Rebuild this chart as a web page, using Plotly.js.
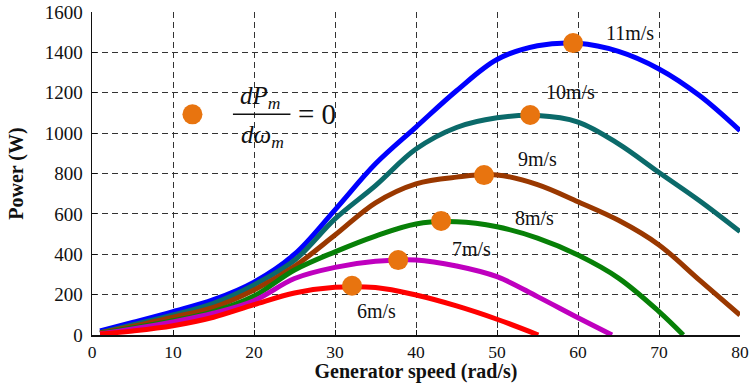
<!DOCTYPE html>
<html>
<head>
<meta charset="utf-8">
<script src="https://cdn.plot.ly/plotly-3.0.1.min.js"></script>
<style>html,body{margin:0;padding:0;background:#fff;}#chart{width:749px;height:383px;}</style>
</head>
<body>
<div id="chart"></div>
<script>
// Generator speed (rad/s) sample points
const speed = [1, 5, 10, 15, 20, 25, 30, 35, 40, 45, 50, 55, 60, 65, 70, 75, 80];

// Power (W) curves per wind speed
const p11x = speed;
const p11 = [20, 62, 116, 175, 262, 400, 620, 848, 1030, 1210, 1365, 1433, 1445, 1405, 1318, 1186, 1012];
const p10x = speed;
const p10 = [12, 50, 99, 157, 248, 370, 575, 740, 921, 1028, 1076, 1087, 1055, 947, 805, 665, 512];
const p9x = speed;
const p9 = [10, 42, 88, 137, 223, 340, 495, 655, 749, 782, 793, 745, 660, 568, 446, 272, 99];
const p8x = [1, 5, 10, 15, 20, 25, 30, 35, 40, 45, 50, 55, 60, 65, 70, 73];
const p8 = [8, 35, 71, 116, 193, 322, 412, 490, 550, 561, 536, 480, 396, 282, 116, 0];
const p7x = [1, 5, 10, 15, 20, 25, 30, 35, 40, 45, 50, 55, 60, 64.2];
const p7 = [6, 30, 65, 108, 170, 280, 335, 365, 372, 342, 289, 190, 85, 0];
const p6x = [1, 5, 10, 15, 20, 25, 30, 35, 40, 45, 50, 55.1];
const p6 = [5, 20, 46, 88, 150, 208, 236, 235, 198, 144, 78, 0];

// Maximum power points (dPm/dwm = 0)
const mppX = [32.1, 37.8, 43.1, 48.4, 54.1, 59.4];
const mppY = [244, 371, 565, 792, 1090, 1446];
const keyX = [12.4];
const keyY = [1093];

// Curve labels
const labelText = ['11m/s', '10m/s', '9m/s', '8m/s', '7m/s', '6m/s'];
const labelX = [66.4, 59.1, 55.0, 54.6, 46.9, 35.1];
const labelY = [1494, 1205, 870, 578, 424, 120];

const xTicks = [0, 10, 20, 30, 40, 50, 60, 70, 80];
const yTicks = [0, 200, 400, 600, 800, 1000, 1200, 1400, 1600];

const serif = '"Liberation Serif", "DejaVu Serif", serif';

function curve(x, y, color) {
  return {x: x, y: y, type: 'scatter', mode: 'lines',
    line: {color: color, width: 5, shape: 'spline', smoothing: 1},
    hoverinfo: 'skip', showlegend: false};
}

const data = [
  curve(p11x, p11, '#0000ff'),
  curve(p10x, p10, '#0b6a6a'),
  curve(p9x, p9, '#9a3800'),
  curve(p8x, p8, '#078007'),
  curve(p7x, p7, '#bf00bf'),
  curve(p6x, p6, '#ff0000'),
  {x: mppX, y: mppY, type: 'scatter', mode: 'markers',
   marker: {color: '#e8740f', size: 20, line: {width: 0}}, showlegend: false, cliponaxis: false},
  {x: keyX, y: keyY, type: 'scatter', mode: 'markers',
   marker: {color: '#e8740f', size: 20, line: {width: 0}}, showlegend: false, cliponaxis: false}
];

const annotations = labelText.map((t, i) => ({
  x: labelX[i], y: labelY[i], xref: 'x', yref: 'y', text: t, showarrow: false,
  font: {family: serif, size: 20, color: '#111'}
}));

annotations.push(
  {x: 20.8, y: 1178, xref: 'x', yref: 'y', text: '<i>dP</i><sub><i>m</i></sub>', showarrow: false,
   font: {family: serif, size: 25, color: '#111'}},
  {x: 21.0, y: 985, xref: 'x', yref: 'y', text: '<i>d\u03C9</i><sub><i>m</i></sub>', showarrow: false,
   font: {family: serif, size: 25, color: '#111'}},
  {x: 27.8, y: 1093, xref: 'x', yref: 'y', text: '= 0', showarrow: false,
   font: {family: serif, size: 29, color: '#111'}}
);

const layout = {
  width: 749, height: 383,
  margin: {l: 92, r: 9, t: 12, b: 48},
  paper_bgcolor: '#fff', plot_bgcolor: '#fff',
  showlegend: false,
  font: {family: serif, size: 19, color: '#111'},
  xaxis: {
    range: [0, 80], tickvals: xTicks, ticktext: xTicks.map(String),
    showgrid: true, gridcolor: '#333', gridwidth: 1, griddash: '6px,4px',
    zeroline: false, showline: true, linecolor: '#111', linewidth: 1.5,
    ticks: 'inside', ticklen: 5, tickcolor: '#111',
    tickfont: {family: serif, size: 17.5, color: '#111'},
    title: {text: '<b>Generator speed (rad/s)</b>', standoff: 10,
      font: {family: serif, size: 20, color: '#111'}},
    automargin: false
  },
  yaxis: {
    range: [0, 1600], tickvals: yTicks, ticktext: yTicks.map(String),
    showgrid: true, gridcolor: '#333', gridwidth: 1, griddash: '6px,4px',
    zeroline: false, showline: true, linecolor: '#111', linewidth: 1.5,
    ticks: 'inside', ticklen: 5, tickcolor: '#111', ticklabelstandoff: 4,
    tickfont: {family: serif, size: 19, color: '#111'},
    title: {text: '<b>Power (W)</b>', standoff: 15,
      font: {family: serif, size: 20, color: '#111'}},
    automargin: false
  },
  shapes: [
    {type: 'line', xref: 'x', yref: 'y', x0: 17.4, x1: 24.5, y0: 1093, y1: 1093,
     line: {color: '#111', width: 1.5}}
  ],
  annotations: annotations
};

Plotly.newPlot('chart', data, layout, {displayModeBar: false, staticPlot: true});
</script>
</body>
</html>
